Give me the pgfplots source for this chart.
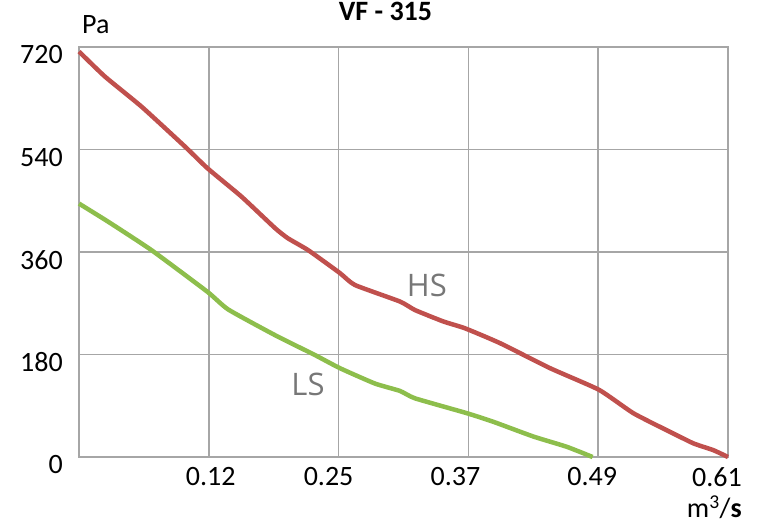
\documentclass[border=0pt]{standalone}
\usepackage{pgfplots}
\pgfplotsset{compat=1.18}
\usepackage{fontspec}
\setmainfont{Carlito}
\newfontfamily\lblfont{Open Sans}
\definecolor{gridgray}{HTML}{A6A6A6}
\definecolor{hsred}{HTML}{C0504D}
\definecolor{lsgreen}{HTML}{8DBE4C}
\definecolor{lblgray}{HTML}{777777}
\newcommand{\tf}{\fontsize{28bp}{33bp}\selectfont}
\begin{document}
\begin{tikzpicture}
\begin{axis}[
  at={(79bp,70bp)}, anchor=south west,
  scale only axis, width=649bp, height=410bp,
  xmin=0, xmax=5, ymin=0, ymax=720,
  xtick={0,1,2,3,4,5},
  xticklabels={{},{0.12\hspace*{-4bp}},{0.25\hspace*{20bp}},{0.37\hspace*{26bp}},{0.49\hspace*{12bp}},{0.61\hspace*{22bp}}},
  ytick={0,180,360,540,720},
  /pgf/number format/assume math mode=true,
  grid=major,
  grid style={draw=gridgray, line width=1.6bp},
  axis line style={draw=gridgray, line width=2bp},
  major tick length=0pt,
  tick style={draw=none},
  xticklabel style={font=\tf, inner sep=0pt, anchor=north, yshift=-10bp},
  yticklabel style={font=\tf, inner sep=0pt, anchor=east, xshift=-16bp, yshift=-8bp},
  xlabel={m\textsuperscript{3}/\textbf{s}},
  xlabel style={font=\tf, at={(rel axis cs:1,0)}, anchor=base east, inner sep=0pt, xshift=14bp, yshift=-60bp},
  ylabel={Pa},
  ylabel style={font=\tf, rotate=-90, at={(rel axis cs:0,1)}, anchor=base west, inner sep=0pt, xshift=3bp, yshift=13bp},
  title={VF - 315},
  title style={font=\tf\bfseries, at={(rel axis cs:0.5,1)}, anchor=base, inner sep=0pt, xshift=-18bp, yshift=21bp},
  clip=false,
]
\addplot[color=hsred, line width=4.5bp, line join=round, smooth, tension=0.3] coordinates {
(0,712) (0.2,668) (0.483,615) (0.817,545) (0.99,507) (1.253,457) (1.51,402) (1.61,384) (1.767,363) (2.01,323) (2.126,302) (2.473,273) (2.589,258) (2.807,238) (2.974,226) (3.243,200) (3.629,156) (4.006,118) (4.27,77) (4.528,47) (4.733,24) (4.887,12) (5,0)
};
\addplot[color=lsgreen, line width=4.5bp, line join=round, smooth, tension=0.3] coordinates {
(0,445) (0.226,413) (0.56,363) (0.99,290) (1.15,259) (1.51,214) (1.818,179) (2.01,156) (2.28,129) (2.473,116) (2.589,103) (2.987,77) (3.19,62) (3.5,36) (3.757,18) (3.957,0)
};
\node[font=\lblfont\fontsize{31bp}{36bp}\selectfont, text=lblgray, inner sep=0pt] at (axis cs:2.68,302) {HS};
\node[font=\lblfont\fontsize{31bp}{36bp}\selectfont, text=lblgray, inner sep=0pt] at (axis cs:1.764,128) {LS};
\end{axis}
\pgfresetboundingbox
\useasboundingbox (0,0) rectangle (757bp,527bp);
\end{tikzpicture}
\end{document}
